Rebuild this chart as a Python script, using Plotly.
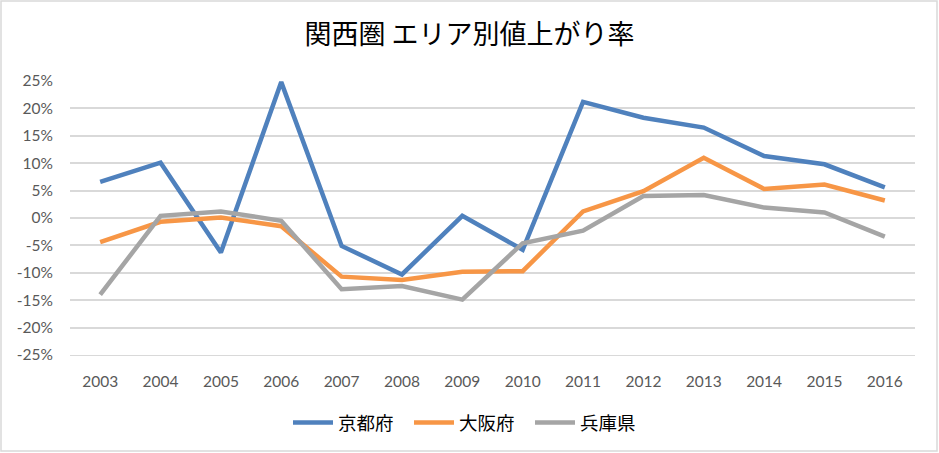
import plotly.graph_objects as go

years = ["2003", "2004", "2005", "2006", "2007", "2008", "2009",
         "2010", "2011", "2012", "2013", "2014", "2015", "2016"]
kyoto = [0.066, 0.101, -0.063, 0.248, -0.051, -0.103, 0.004,
         -0.058, 0.212, 0.183, 0.165, 0.113, 0.098, 0.056]
osaka = [-0.044, -0.007, 0.001, -0.015, -0.107, -0.113, -0.098,
         -0.097, 0.012, 0.049, 0.110, 0.053, 0.061, 0.032]
hyogo = [-0.140, 0.004, 0.012, -0.005, -0.130, -0.124, -0.149,
         -0.046, -0.023, 0.040, 0.042, 0.019, 0.010, -0.034]
series_names = ["京都府", "大阪府", "兵庫県"]
colors = ["#4F81BD", "#F79646", "#A5A5A5"]
y_tickvals = [0.25, 0.20, 0.15, 0.10, 0.05, 0.0, -0.05, -0.10, -0.15, -0.20, -0.25]
y_ticktext = ["25%", "20%", "15%", "10%", "5%", "0%", "-5%", "-10%", "-15%", "-20%", "-25%"]

W, H = 939, 453
L, R, T, B = 70, 24, 81, 98
pw, ph = W - L - R, H - T - B

fig = go.Figure()
for name, vals, c in zip(series_names, [kyoto, osaka, hyogo], colors):
    fig.add_trace(go.Scatter(x=years, y=vals, name=name, mode="lines",
                             line=dict(color=c, width=4.5)))

num_font = dict(family="Lato, Liberation Sans, sans-serif", size=15.5, color="#595959")
fig.update_layout(
    width=W, height=H,
    margin=dict(l=L, r=R, t=T, b=B, autoexpand=False),
    paper_bgcolor="white", plot_bgcolor="white",
    title=dict(text="関西圏 エリア別値上がり率", x=0.5, xanchor="center",
               xref="container", yref="container",
               y=1 - 35 / H, yanchor="middle",
               font=dict(family="Noto Sans CJK JP", size=27, color="#000000")),
    showlegend=True,
    legend=dict(orientation="h", x=0.5, xanchor="center", xref="container",
                yref="container", y=1 - 423 / H, yanchor="middle",
                font=dict(family="Noto Sans CJK JP", size=18.5, color="#000000"),
                itemwidth=40, tracegroupgap=0, entrywidth=66, entrywidthmode="pixels"),
    xaxis=dict(type="category", range=[-0.5, 13.5], showgrid=False, zeroline=False,
               showline=True, linecolor="#D9D9D9", linewidth=1,
               tickfont=num_font, ticks="", ticklabelstandoff=12, automargin=False),
    yaxis=dict(range=[-0.25, 0.25], tickvals=y_tickvals, ticktext=y_ticktext,
               showgrid=True, gridcolor="#D9D9D9", gridwidth=1.5,
               zeroline=False, showline=False, tickfont=num_font,
               ticks="", ticklabelstandoff=16, automargin=False),
)

fig.add_shape(type="rect", xref="paper", yref="paper",
              x0=(1 - L) / pw, x1=(W - 2 - L) / pw,
              y0=(H - B - (H - 2)) / ph, y1=(H - B - 1) / ph,
              line=dict(color="#D9D9D9", width=1.5), layer="below")

fig.write_html("out.html", config={"displayModeBar": False},
               post_script="document.body.style.margin='0';document.body.style.overflow='hidden';")
